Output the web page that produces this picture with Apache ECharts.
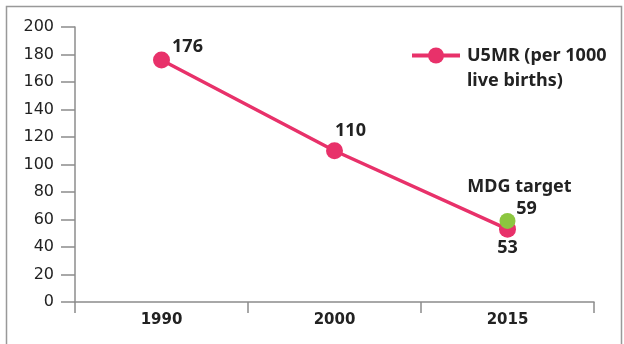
<!DOCTYPE html>
<html>
<head>
<meta charset="utf-8">
<script src="https://cdn.jsdelivr.net/npm/echarts@6/dist/echarts.min.js"></script>
<style>
  html, body { margin: 0; padding: 0; background: #fff; }
  #chart { width: 624px; height: 344px; }
</style>
</head>
<body>
<div id="chart"></div>
<script>
// --- data ---
const years = ['1990', '2000', '2015']
const u5mrValues = [176, 110, 53]
const mdgTarget = [null, null, 59]
const yTicks = [0, 20, 40, 60, 80, 100, 120, 140, 160, 180, 200]

const pink = '#e8316a'
const green = '#8cc63f'
const ink = '#222'
const axisGrey = '#8c8c8c'
const seriesName = 'U5MR (per 1000\nlive births)'

const chart = echarts.init(document.getElementById('chart'))

// label offsets for the pink points (by index)
const labelShift = [
  { dx: 26, dy: 9 },
  { dx: 16, dy: 3 },
  { dx: 0, dy: 41 },
]

const options = {
  animation: false,
  textStyle: { fontFamily: 'Noto Sans' },
  grid: { left: 75, right: 30, top: 27, bottom: 42 },
  legend: {
    data: [seriesName],
    left: 405,
    top: 13,
    itemWidth: 48,
    itemHeight: 20,
    lineStyle: { width: 4 },
    // empty first line so that the first text line sits level with the icon
    formatter: (name) => '\n' + name,
    textStyle: {
      fontSize: 18,
      fontWeight: 'bold',
      color: ink,
      lineHeight: 25,
      padding: [0, 0, 0, 2],
    },
  },
  xAxis: {
    type: 'category',
    data: years,
    boundaryGap: true,
    axisLine: { lineStyle: { color: axisGrey, width: 1.5 } },
    axisTick: { show: true, interval: 0, length: 11, lineStyle: { color: axisGrey, width: 1.5 } },
    axisLabel: { fontFamily: 'DejaVu Sans', fontSize: 15, fontWeight: 'bold', color: ink, margin: 11 },
  },
  yAxis: {
    type: 'value',
    min: 0,
    max: 200,
    interval: 20,
    axisLine: { show: true, lineStyle: { color: axisGrey, width: 1.5 } },
    axisTick: { show: true, length: 14, lineStyle: { color: axisGrey, width: 1.5 } },
    splitLine: { show: false },
    axisLabel: {
      fontFamily: 'DejaVu Sans',
      fontSize: 16,
      color: ink,
      margin: 21,
      formatter: (v) => (yTicks.includes(v) ? String(v) : ''),
    },
  },
  series: [
    {
      name: seriesName,
      type: 'line',
      data: u5mrValues,
      symbol: 'circle',
      symbolSize: 17,
      color: pink,
      lineStyle: { color: pink, width: 3.5 },
      itemStyle: { color: pink },
      label: {
        show: true,
        position: 'top',
        fontSize: 18,
        fontWeight: 'bold',
        color: ink,
      },
      labelLayout: (p) => labelShift[p.dataIndex],
      z: 2,
    },
    {
      name: 'MDG target',
      type: 'scatter',
      data: mdgTarget,
      symbol: 'circle',
      symbolSize: 16,
      itemStyle: { color: green, opacity: 1 },
      label: {
        show: true,
        position: 'top',
        fontSize: 18,
        fontWeight: 'bold',
        color: ink,
        lineHeight: 22,
        formatter: (p) => 'MDG target\n   ' + p.value,
        offset: [12, 12],
      },
      z: 3,
    },
  ],
  graphic: [
    {
      type: 'rect',
      shape: { x: 6.5, y: 6.5, width: 615, height: 360 },
      style: { fill: 'none', stroke: '#999', lineWidth: 1.5 },
      silent: true,
    },
  ],
}

chart.setOption(options)
</script>
</body>
</html>
